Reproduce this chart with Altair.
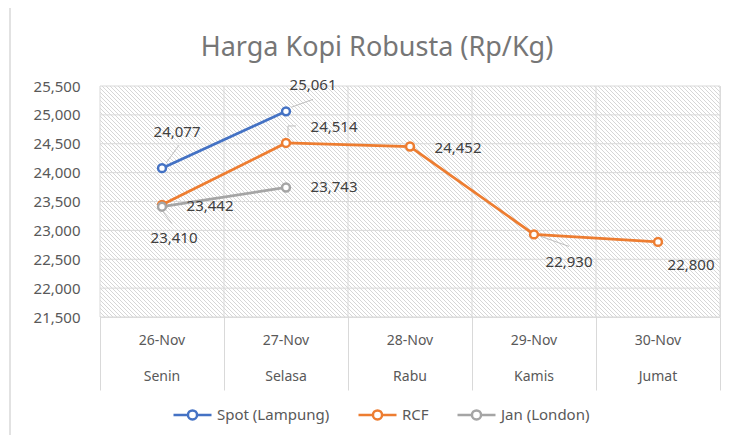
import altair as alt
import pandas as pd

# ---------------- data ----------------
dates = ["26-Nov", "27-Nov", "28-Nov", "29-Nov", "30-Nov"]
days = ["Senin", "Selasa", "Rabu", "Kamis", "Jumat"]
series_names = ["Spot (Lampung)", "RCF", "Jan (London)"]
spot = [24077, 25061, None, None, None]
rcf = [23442, 24514, 24452, 22930, 22800]
jan = [23410, 23743, None, None, None]
y_ticks = [21500, 22000, 22500, 23000, 23500, 24000, 24500, 25000, 25500]
title_text = "Harga Kopi Robusta (Rp/Kg)"

# style: colours and label offsets (pixels) for each point
colors = ["#4472C4", "#ED7D31", "#A5A5A5"]
spot_lbl = [(15, -36), (27, -26), None, None, None]
rcf_lbl = [(48, 1), (48, -16), (48, 1), (35, 28), (33, 23)]
jan_lbl = [(12, 31), (48, 0), None, None, None]
# leader lines: (series, index, x1, y1, x2, y2) offsets in pixels
leaders = [
    ("Spot (Lampung)", 0, 4, -5, 17, -23),
    ("Spot (Lampung)", 1, 5, -4, 27, -12),
    ("RCF", 1, 2, -6, 2, -17),
    ("RCF", 1, 2, -17, 10, -17),
    ("Jan (London)", 0, 1, 5, 10, 17),
    ("RCF", 3, 7, 2, 35, 12),
]

FONT = "Noto Sans"
W, H = 620, 231

rows = []
for name, vals, lbls in zip(series_names, [spot, rcf, jan], [spot_lbl, rcf_lbl, jan_lbl]):
    for i, (v, l) in enumerate(zip(vals, lbls)):
        if v is None:
            continue
        rows.append({"series": name, "pos": i + 0.5, "value": v,
                     "label": f"{v:,}", "dx": l[0], "dy": l[1]})
df = pd.DataFrame(rows)

val_lookup = {(r["series"], r["pos"]): r["value"] for r in rows}
lead_df = pd.DataFrame([
    {"pos": i + 0.5, "value": val_lookup[(s, i + 0.5)], "x1": a, "y1": b, "x2": c, "y2": d}
    for s, i, a, b, c, d in leaders
])

cat_df = pd.DataFrame({"pos": [i + 0.5 for i in range(len(dates))], "date": dates, "day": days})
grid_y = pd.DataFrame({"value": y_ticks})
grid_x = pd.DataFrame({"pos": list(range(len(dates) + 1))})
one = pd.DataFrame({"t": [title_text]})

xscale = alt.Scale(domain=[0, 5])
yscale = alt.Scale(domain=[21500, 25500])
cscale = alt.Scale(domain=series_names, range=colors)

# hatch pattern as a striped linear gradient (period = 4px horizontally)
N = 213
stops = []
for k in range(N):
    a = k / N
    b = (k + 0.36) / N
    c = (k + 1) / N
    stops += [
        {"offset": a, "color": "#d6d6d6"},
        {"offset": b, "color": "#d6d6d6"},
        {"offset": b, "color": "#ffffff"},
        {"offset": c, "color": "#ffffff"},
    ]
hatch = {"gradient": "linear", "x1": 0, "y1": 1, "x2": 1.2068, "y2": 0.5504, "stops": stops}

x_enc = alt.X("pos:Q", scale=xscale,
              axis=alt.Axis(values=[0, 1, 2, 3, 4, 5], labels=False, grid=False,
                            tickSize=73, tickColor="#d9d9d9", tickWidth=1,
                            domain=False, title=None))
y_enc = alt.Y("value:Q", scale=yscale,
              axis=alt.Axis(values=y_ticks, labelExpr="format(datum.value, ',')",
                            grid=False, ticks=False,
                            domain=False, labelPadding=20, labelFont=FONT,
                            labelFontSize=15, labelColor="#595959", title=None))

border = alt.Chart(one).mark_rect(fill="transparent", stroke="#d9d9d9", strokeWidth=1.5).encode(
    x=alt.value(-90), x2=alt.value(700), y=alt.value(-79), y2=alt.value(600)
)

bg = alt.Chart(one).mark_rect(fill=hatch).encode(
    x=alt.value(0), x2=alt.value(W), y=alt.value(0), y2=alt.value(H)
)

hgrid = alt.Chart(grid_y).mark_rule(color="#d9d9d9", strokeWidth=1).encode(y=y_enc)
vgrid = alt.Chart(grid_x).mark_rule(color="#d9d9d9", strokeWidth=1).encode(x=x_enc)

legend_path = ("M-1,0L-0.24,0M0.24,0L1,0M0.24,0A0.24,0.24,0,1,1,-0.24,0"
               "A0.24,0.24,0,1,1,0.24,0")

lines = alt.Chart(df).mark_line(strokeWidth=2.75).encode(
    x=x_enc, y=y_enc,
    color=alt.Color("series:N", scale=cscale, sort=series_names,
                    legend=alt.Legend(orient="none", legendX=72, legendY=308,
                                      direction="horizontal", title=None,
                                      symbolType=legend_path, symbolSize=1444,
                                      symbolStrokeWidth=2.5, symbolFillColor="white",
                                      labelFont=FONT, labelFontSize=15,
                                      labelColor="#595959", labelOffset=4,
                                      columnPadding=23)),
    order=alt.Order("pos:Q"),
)

points = alt.Chart(df).mark_point(shape="circle", size=62, strokeWidth=2.5,
                                  fill="white", fillOpacity=1, opacity=1).encode(
    x=x_enc, y=y_enc,
    stroke=alt.Stroke("series:N", scale=cscale, legend=None),
)

leader_rules = alt.Chart(lead_df).mark_rule(
    color="#bfbfbf", strokeWidth=1,
    xOffset=alt.expr("datum.x1"), x2Offset=alt.expr("datum.x2"),
    yOffset=alt.expr("datum.y1"), y2Offset=alt.expr("datum.y2"),
).encode(x=x_enc, x2="pos:Q", y=y_enc, y2="value:Q")

labels = alt.Chart(df).mark_text(
    font=FONT, fontSize=15, color="#404040", align="center", baseline="middle",
    dx=alt.expr("datum.dx"), dy=alt.expr("datum.dy"),
).encode(x=x_enc, y=y_enc, text="label:N")

date_text = alt.Chart(cat_df).mark_text(
    font=FONT, fontSize=14, color="#595959", baseline="middle"
).encode(x=x_enc, y=alt.value(H + 24), text="date:N")

day_text = alt.Chart(cat_df).mark_text(
    font=FONT, fontSize=14, color="#595959", baseline="middle"
).encode(x=x_enc, y=alt.value(H + 60), text="day:N")

title = alt.Chart(one).mark_text(
    font=FONT, fontSize=27, color="#767676", baseline="alphabetic", align="center"
).encode(x=alt.value(277), y=alt.value(-30), text="t:N")

chart = alt.layer(
    border, bg, hgrid, vgrid, leader_rules, lines, points, labels, date_text, day_text, title
).properties(
    width=W, height=H,
    padding={"left": 92, "top": 78, "right": 2, "bottom": 118},
    autosize=alt.AutoSizeParams(type="none"),
).configure_view(stroke=None).configure(background="white")

chart.save("out.html", embed_options={"renderer": "svg", "actions": False})
